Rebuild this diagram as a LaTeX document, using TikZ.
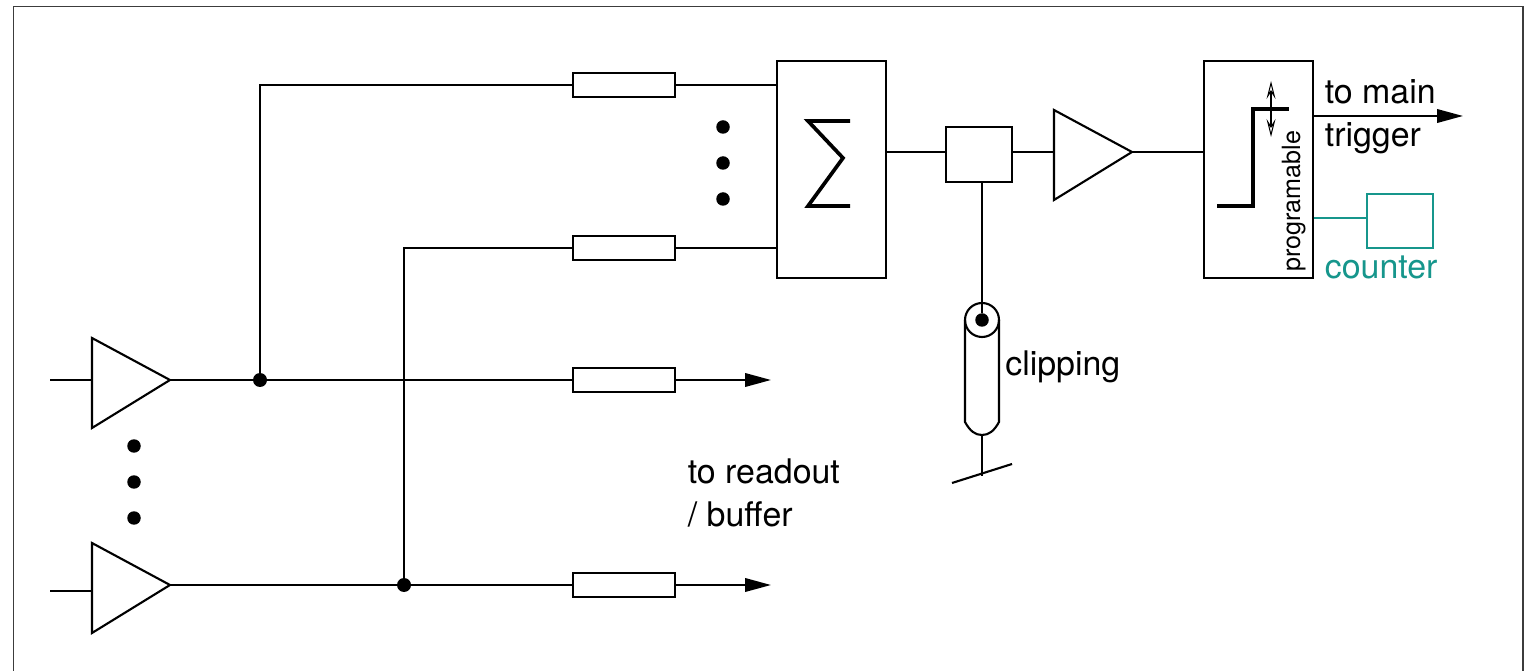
\documentclass[tikz,border=0pt]{standalone}
\usepackage{fontspec}
\setmainfont{TeX Gyre Heros}
\usetikzlibrary{arrows.meta, positioning, calc}
\definecolor{countteal}{RGB}{22,150,140}
\definecolor{framegray}{RGB}{60,60,60}
\tikzset{
    % Wires and boxes
    wire/.style={line width=1.2pt, line join=miter},
    resbox/.style={rectangle, draw, line width=1.2pt, fill=white, inner sep=0pt,
                minimum width=2.04cm, minimum height=0.48cm},
    blockbox/.style={rectangle, draw, line width=1.2pt, inner sep=0pt,
                minimum width=2.18cm, minimum height=4.34cm},
    clipbox/.style={rectangle, draw, line width=1.2pt, inner sep=0pt,
                minimum width=1.32cm, minimum height=1.1cm},
    % Counter
    countbox/.style={rectangle, draw=countteal, line width=1.2pt, inner sep=0pt,
                minimum width=1.32cm, minimum height=1.08cm},
    % Dots
    bigdot/.style={circle, fill=black, inner sep=0pt, minimum size=0.27cm},
    juncdot/.style={circle, fill=black, inner sep=0pt, minimum size=0.28cm},
    % Arrows
    outarrow/.style={wire, -{Triangle[length=0.52cm, width=0.27cm]}},
    thinarrow/.style={line width=0.6pt, {Stealth[length=0.36cm, width=0.18cm, inset=0.14cm, open]}-{Stealth[length=0.36cm, width=0.18cm, inset=0.14cm, open]}},
    % Symbols
    symline/.style={line width=2.1pt, line join=miter},
    lbl/.style={font=\fontsize{19.3}{19.3}\selectfont, anchor=base west, inner sep=0pt},
    % Amplifier
    amp/.pic={
        \draw[wire] (0,-42) -- (78,0) -- (0,48) -- cycle;
        \coordinate (-in) at (0,0);
        \coordinate (-out) at (78,0);
    },
}
\begin{document}
\begin{tikzpicture}[x=0.02cm, y=-0.02cm]
\useasboundingbox (0,0) rectangle (1533,671);
\draw[framegray, line width=0.7pt] (13.5,671) -- (13.5,6.5) -- (1523,6.5) -- (1523,671);

% Amplifiers
\pic (ampa) at (92,380) {amp};
\pic (ampb) at (92,585) {amp};
\pic (ampc) at (1054,152) {amp};
\coordinate (ina) at (50,380);
\coordinate (inb) at (50,591);
\coordinate (inbend) at (92,591);
\draw[wire] (ina) -- (ampa-in);
\draw[wire] (inb) -- (inbend);

% Delay boxes
\node[resbox] (resa) at (624,85)  {};
\node[resbox] (resb) at (624,248) {};
\node[resbox] (resc) at (624,380) {};
\node[resbox] (resd) at (624,585) {};

% Sum and discriminator
\node[blockbox] (sum)  at (831.5,169.5) {};
\node[blockbox] (disc) at (1258.5,169.5) {};
\node[clipbox] (split) at (979,154.5) {};
\node[countbox] (count) at (1400,221) {};

% Junctions
\node[juncdot] (junca) at (260,380) {};
\node[juncdot] (juncb) at (404,585) {};

% Wires
\draw[wire] (ampa-out) -- (resc);
\draw[wire] (ampb-out) -- (resd);
\draw[wire] (junca) |- (resa);
\draw[wire] (juncb) |- (resb);
\draw[wire] (resa) -- (resa -| sum.west);
\draw[wire] (resb) -- (resb -| sum.west);
\coordinate (enda) at (771,380);
\coordinate (endb) at (771,585);
\draw[outarrow] (resc) -- (enda);
\draw[outarrow] (resd) -- (endb);
\coordinate (sumout) at (sum.east |- ampc-in);
\coordinate (discin) at (disc.west |- ampc-in);
\draw[wire] (sumout) -- (split.west |- sumout);
\draw[wire] (split.east |- sumout) -- (ampc-in);
\draw[wire] (ampc-out) -- (discin);

% Output and counter
\coordinate (discout) at (1313,116);
\coordinate (trigend) at (1463,116);
\draw[outarrow] (discout) -- (trigend);
\coordinate (countin) at (1367,218);
\draw[wire, countteal] (disc.east |- countin) -- (countin);

% Sigma and threshold step
\draw[symline] (850,121) -- (808,121) -- (843,158) -- (808,206) -- (850,206);
\draw[symline] (1217,206) -- (1253,206) -- (1253,109) -- (1289,109);
\coordinate (thrup) at (1271,81);
\coordinate (thrdown) at (1271,137);
\draw[thinarrow] (thrup) -- (thrdown);

% Clipping cable
\coordinate (cabtop) at (982,320);
\node[bigdot] (cabdot) at (cabtop) {};
\node[circle, draw, line width=1.2pt, inner sep=0pt, minimum size=0.68cm] (cabring) at (cabtop) {};
\draw[wire] (split.south -| cabtop) -- (cabdot);
\draw[wire] (965,320) -- (965,422) .. controls (970,431) and (975,435) .. (982,435)
    .. controls (989,435) and (994,431) .. (999,422) -- (999,320);
\coordinate (cabbot) at (982,435);
\coordinate (gndmid) at (982,476);
\draw[wire] (cabbot) -- (gndmid);
\coordinate (gnda) at (952,483);
\coordinate (gndb) at (1012,464);
\draw[wire] (gnda) -- (gndb);

% Dots
\foreach \y in {127,163,199} \node[bigdot] (sumdot\y) at (723,\y) {};
\foreach \y in {446,482,518} \node[bigdot] (ampdot\y) at (134,\y) {};

% Labels
\node[lbl] (lbmain) at (1324.5,104) {to main};
\node[lbl] (lbtrig) at (1324.5,147) {trigger};
\node[lbl, text=countteal] (lbcount) at (1324.5,279) {counter};
\node[lbl] (lbclip) at (1005,376) {clipping};
\node[lbl] (lbread) at (687.5,483) {to readout};
\node[lbl] (lbbuf) at (687.5,526) {/ buffer};
\node[font=\fontsize{14.3}{14.3}\selectfont, rotate=90, anchor=base west, inner sep=0pt] (lbprog) at (1300,272) {programable};
\end{tikzpicture}
\end{document}
